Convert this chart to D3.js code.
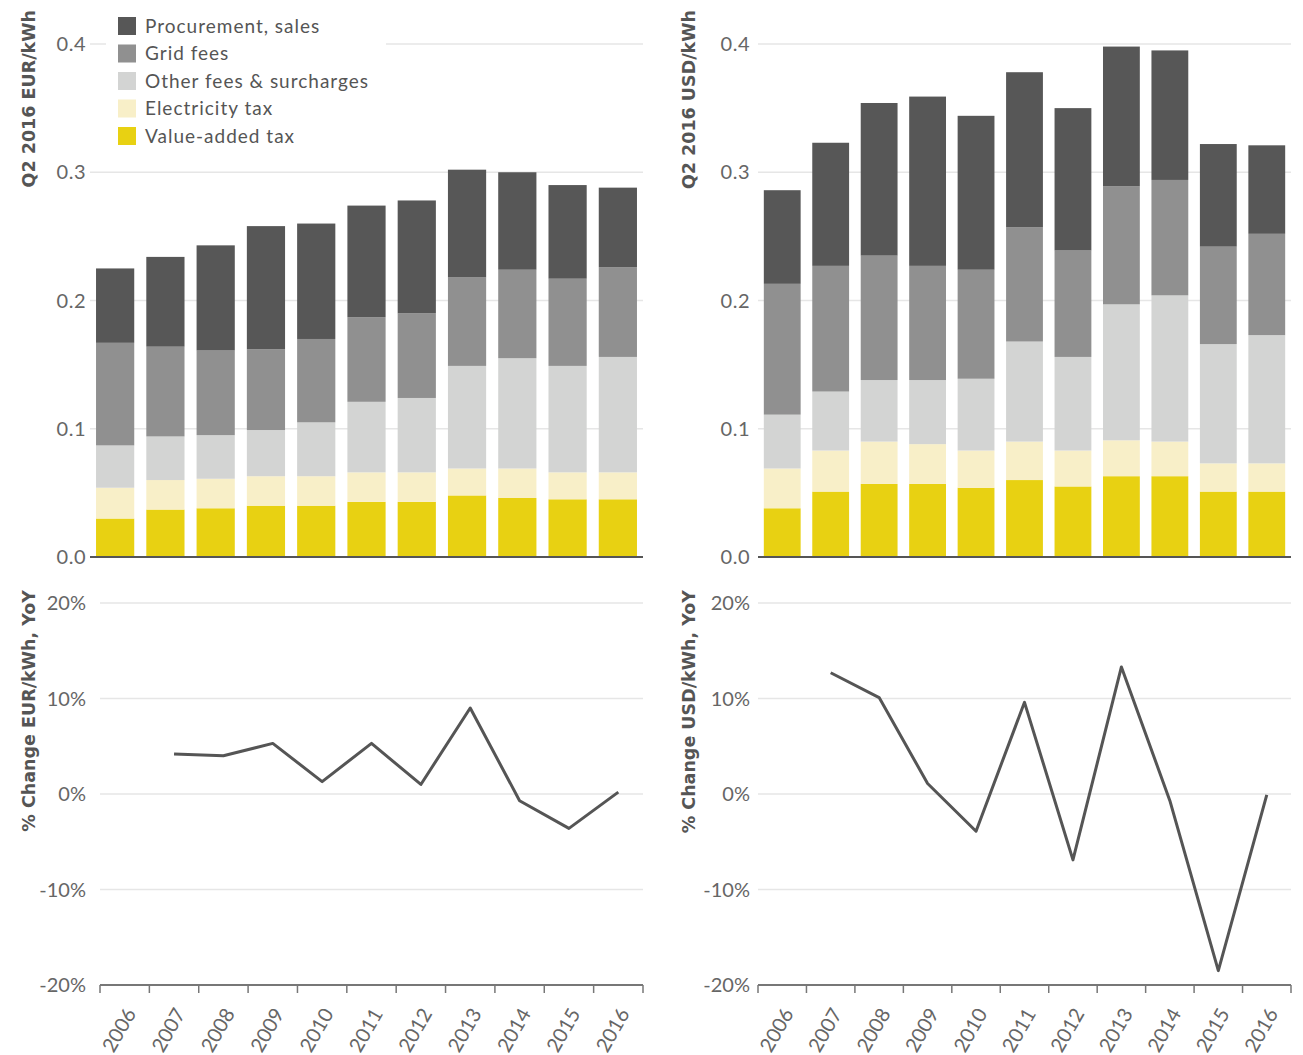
<!DOCTYPE html>
<html>
<head>
<meta charset="utf-8">
<script src="https://cdn.jsdelivr.net/npm/d3@7"></script>
<style>
  body { margin: 0; background: #fff; }
  text { font-family: Lato, "Open Sans", sans-serif; }
</style>
</head>
<body>
<div class="canvas"></div>
<script>
const years = ['2006', '2007', '2008', '2009', '2010', '2011', '2012', '2013', '2014', '2015', '2016'];

const seriesNames = ['Value-added tax', 'Electricity tax', 'Other fees & surcharges', 'Grid fees', 'Procurement, sales'];
const seriesColors = ['#e8d112', '#f8efc8', '#d3d4d3', '#909090', '#575757'];

// Q2 2016 EUR/kWh
const eurVat   = [0.030, 0.037, 0.038, 0.040, 0.040, 0.043, 0.043, 0.048, 0.046, 0.045, 0.045];
const eurElec  = [0.024, 0.023, 0.023, 0.023, 0.023, 0.023, 0.023, 0.021, 0.023, 0.021, 0.021];
const eurOther = [0.033, 0.034, 0.034, 0.036, 0.042, 0.055, 0.058, 0.080, 0.086, 0.083, 0.090];
const eurGrid  = [0.080, 0.070, 0.066, 0.063, 0.065, 0.066, 0.066, 0.069, 0.069, 0.068, 0.070];
const eurProc  = [0.058, 0.070, 0.082, 0.096, 0.090, 0.087, 0.088, 0.084, 0.076, 0.073, 0.062];

// Q2 2016 USD/kWh
const usdVat   = [0.038, 0.051, 0.057, 0.057, 0.054, 0.060, 0.055, 0.063, 0.063, 0.051, 0.051];
const usdElec  = [0.031, 0.032, 0.033, 0.031, 0.029, 0.030, 0.028, 0.028, 0.027, 0.022, 0.022];
const usdOther = [0.042, 0.046, 0.048, 0.050, 0.056, 0.078, 0.073, 0.106, 0.114, 0.093, 0.100];
const usdGrid  = [0.102, 0.098, 0.097, 0.089, 0.085, 0.089, 0.083, 0.092, 0.090, 0.076, 0.079];
const usdProc  = [0.073, 0.096, 0.119, 0.132, 0.120, 0.121, 0.111, 0.109, 0.101, 0.080, 0.069];

// % change YoY
const eurChange = [null, 4.2, 4.0, 5.3, 1.3, 5.3, 1.0, 9.0, -0.7, -3.6, 0.2];
const usdChange = [null, 12.7, 10.1, 1.1, -3.9, 9.6, -6.9, 13.3, -0.7, -18.5, -0.1];

const barTicks = [0, 0.1, 0.2, 0.3, 0.4];
const changeTicks = [-20, -10, 0, 10, 20];

const dims = {width: 1303, height: 1055};

const svg = d3.select('.canvas')
    .append('svg')
    .attr('width', dims.width)
    .attr('height', dims.height);

const panels = [
    {
        unit: 'EUR', series: [eurVat, eurElec, eurOther, eurGrid, eurProc], change: eurChange,
        top: [90, 643], bottom: [100, 643], labelX: 86, titleX: 35
    },
    {
        unit: 'USD', series: [usdVat, usdElec, usdOther, usdGrid, usdProc], change: usdChange,
        top: [758, 1291], bottom: [758, 1291], labelX: 750, titleX: 695
    }
];

const yBar = d3.scaleLinear().domain([0, 0.4]).range([557, 44]);
const yChange = d3.scaleLinear().domain([-20, 20]).range([985, 603]);

const titleFont = '"DejaVu Sans", sans-serif';

const drawPanel = p => {
    const g = svg.append('g');

    // ---- stacked bars ----
    const x = d3.scaleBand()
        .domain(years)
        .range(p.top)
        .paddingInner(0.24)
        .paddingOuter(0.12);

    g.selectAll('.grid-top')
        .data(barTicks.slice(1))
        .enter()
        .append('line')
        .attr('x1', p.top[0])
        .attr('x2', p.top[1])
        .attr('y1', d => yBar(d))
        .attr('y2', d => yBar(d))
        .attr('stroke', '#e6e6e6')
        .attr('stroke-width', 1.5);

    g.selectAll('.tick-top')
        .data(barTicks)
        .enter()
        .append('text')
        .attr('x', p.labelX)
        .attr('y', d => yBar(d))
        .attr('dy', '0.35em')
        .attr('text-anchor', 'end')
        .attr('fill', '#666')
        .attr('font-size', 20)
        .attr('letter-spacing', 0.5)
        .text(d => d3.format('.1f')(d));

    const rows = years.map((yr, i) => {
        const row = {year: yr};
        seriesNames.forEach((s, j) => row[s] = p.series[j][i]);
        return row;
    });
    const stacked = d3.stack().keys(seriesNames)(rows);

    g.selectAll('.layer')
        .data(stacked)
        .enter()
        .append('g')
        .attr('fill', (d, i) => seriesColors[i])
        .selectAll('rect')
        .data(d => d)
        .enter()
        .append('rect')
        .attr('x', d => x(d.data.year))
        .attr('width', x.bandwidth())
        .attr('y', d => yBar(d[1]))
        .attr('height', d => yBar(d[0]) - yBar(d[1]));

    g.append('line')
        .attr('x1', p.top[0])
        .attr('x2', p.top[1])
        .attr('y1', yBar(0))
        .attr('y2', yBar(0))
        .attr('stroke', '#555')
        .attr('stroke-width', 2);

    g.append('text')
        .attr('transform', `translate(${p.titleX}, 10) rotate(-90)`)
        .attr('text-anchor', 'end')
        .attr('fill', '#555')
        .style('font-family', titleFont)
        .attr('font-size', 17.5)
        .attr('font-weight', 'bold')
        .text(`Q2 2016 ${p.unit}/kWh`);

    // ---- YoY change line ----
    const xb = d3.scaleBand()
        .domain(years)
        .range(p.bottom);

    g.selectAll('.grid-bottom')
        .data(changeTicks.slice(1))
        .enter()
        .append('line')
        .attr('x1', p.bottom[0])
        .attr('x2', p.bottom[1])
        .attr('y1', d => yChange(d))
        .attr('y2', d => yChange(d))
        .attr('stroke', '#e6e6e6')
        .attr('stroke-width', 1.5);

    g.selectAll('.tick-bottom')
        .data(changeTicks)
        .enter()
        .append('text')
        .attr('x', p.labelX)
        .attr('y', d => yChange(d))
        .attr('dy', '0.35em')
        .attr('text-anchor', 'end')
        .attr('fill', '#666')
        .attr('font-size', 20)
        .text(d => d + '%');

    g.append('line')
        .attr('x1', p.bottom[0])
        .attr('x2', p.bottom[1])
        .attr('y1', yChange(-20))
        .attr('y2', yChange(-20))
        .attr('stroke', '#777')
        .attr('stroke-width', 2);

    const edges = years.map(yr => xb(yr)).concat([p.bottom[1]]);
    g.selectAll('.xtick')
        .data(edges)
        .enter()
        .append('line')
        .attr('x1', d => d)
        .attr('x2', d => d)
        .attr('y1', yChange(-20))
        .attr('y2', yChange(-20) + 8)
        .attr('stroke', '#777')
        .attr('stroke-width', 1.5);

    g.selectAll('.xlabel')
        .data(years)
        .enter()
        .append('text')
        .attr('transform', d => `translate(${xb(d) + xb.bandwidth() / 2 + 6}, 1010) rotate(-60)`)
        .attr('text-anchor', 'end')
        .attr('dy', '0.35em')
        .attr('fill', '#666')
        .attr('font-size', 20)
        .text(d => d);

    const line = d3.line()
        .defined(d => d.v !== null)
        .x(d => xb(d.year) + xb.bandwidth() / 2)
        .y(d => yChange(d.v));

    g.append('path')
        .datum(years.map((yr, i) => ({year: yr, v: p.change[i]})))
        .attr('fill', 'none')
        .attr('stroke', '#555')
        .attr('stroke-width', 3)
        .attr('stroke-linejoin', 'round')
        .attr('d', line);

    g.append('text')
        .attr('transform', `translate(${p.titleX}, 590) rotate(-90)`)
        .attr('text-anchor', 'end')
        .attr('fill', '#555')
        .style('font-family', titleFont)
        .attr('font-size', 17.5)
        .attr('font-weight', 'bold')
        .text(`% Change ${p.unit}/kWh, YoY`);
};

panels.forEach(drawPanel);

// legend (top left, over the grid)
const legend = svg.append('g');

legend.append('rect')
    .attr('x', 106)
    .attr('y', 12)
    .attr('width', 280)
    .attr('height', 140)
    .attr('fill', '#fff');

const legendOrder = seriesNames.slice().reverse();

const items = legend.selectAll('.item')
    .data(legendOrder)
    .enter()
    .append('g')
    .attr('transform', (d, i) => `translate(118, ${17 + i * 27.5})`);

items.append('rect')
    .attr('width', 18)
    .attr('height', 18)
    .attr('fill', d => seriesColors[seriesNames.indexOf(d)]);

items.append('text')
    .attr('x', 27)
    .attr('y', 9)
    .attr('dy', '0.35em')
    .attr('fill', '#555')
    .attr('font-size', 19)
    .attr('letter-spacing', 1)
    .text(d => d);
</script>
</body>
</html>
